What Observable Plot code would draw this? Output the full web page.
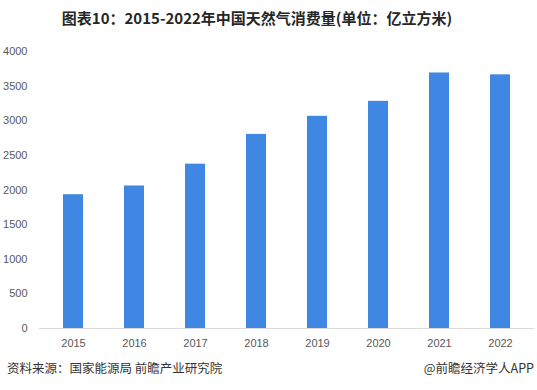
<!DOCTYPE html>
<html><head><meta charset="utf-8">
<script src="https://cdn.jsdelivr.net/npm/d3@7"></script>
<script src="https://cdn.jsdelivr.net/npm/@observablehq/plot@0.6"></script>
<style>
body{margin:0;background:#fff;width:537px;height:390px;overflow:hidden;font-family:"Noto Sans CJK SC","Microsoft YaHei",sans-serif;}
#title{position:absolute;left:0;top:6px;width:514px;text-align:center;font-size:15px;font-weight:bold;color:#262626;line-height:24px;}
#chart{position:absolute;left:0;top:36px;}
#src{position:absolute;left:7px;top:359px;font-size:12.5px;color:#333;line-height:18px;}
#app{position:absolute;right:3px;top:359px;font-size:12.5px;color:#333;line-height:18px;}
</style></head>
<body>
<div id="title">图表10：2015-2022年中国天然气消费量(单位：亿立方米)</div>
<div id="chart"></div>
<div id="src">资料来源：国家能源局 前瞻产业研究院</div>
<div id="app">@前瞻经济学人APP</div>
<script>
const years = ["2015","2016","2017","2018","2019","2020","2021","2022"];
const consumption = [1932, 2058, 2373, 2803, 3064, 3280, 3690, 3663];
const yTicks = [0,500,1000,1500,2000,2500,3000,3500,4000];
const data = years.map((y,i)=>({year:y, value:consumption[i]}));
const chart = Plot.plot({
  width: 537,
  height: 320,
  marginTop: 15,
  marginBottom: 28,
  marginLeft: 39,
  marginRight: 3,
  style: {fontFamily: "'Liberation Sans', Arial, sans-serif", fontSize: "11px", color: "#595959", background: "#fff"},
  x: {domain: years, paddingInner: 0.68, paddingOuter: 0.34, label: null, tickSize: 0, tickPadding: 11},
  y: {domain: [0,4000], ticks: yTicks, tickFormat: d => String(d), label: null, tickSize: 0, tickPadding: 12},
  marks: [
    Plot.barY(data, {x:"year", y:"value", fill:"#4086E3"}),
    Plot.ruleY([0], {stroke:"#d9d9d9", strokeWidth:1})
  ]
});
document.getElementById("chart").appendChild(chart);
</script>
</body></html>
